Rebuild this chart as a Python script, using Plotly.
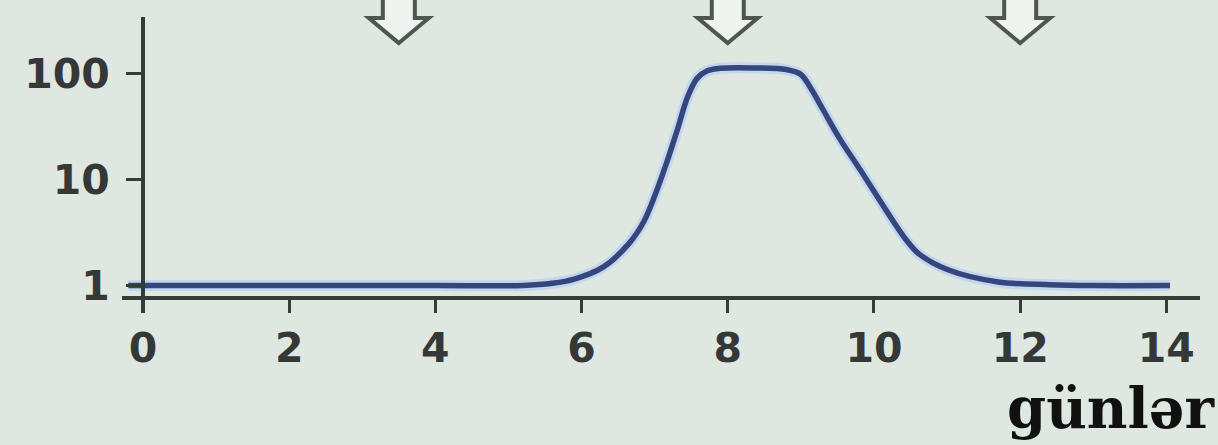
import plotly.graph_objects as go

# ---- data ----
days = [-0.2, 2, 4, 5.2, 5.6, 5.9, 6.3, 6.65, 6.85, 7.0, 7.15, 7.3, 7.45, 7.58,
        7.72, 7.9, 8.33, 8.8, 9.0, 9.15, 9.3, 9.52, 9.84, 10.16, 10.44, 10.61,
        11.02, 11.7, 12.4, 13.0, 14.05]
values = [1.0, 1.0, 1.0, 1.0, 1.05, 1.15, 1.5, 2.5, 4.0, 7.0, 13.5, 28, 60, 90,
          106, 112, 113, 109, 98, 70, 46, 25, 11.5, 5.2, 2.7, 2.0,
          1.4, 1.08, 1.02, 1.0, 1.0]
x_ticks = [0, 2, 4, 6, 8, 10, 12, 14]
y_ticks = [1, 10, 100]
y_tick_labels = ["1", "10", "100"]
arrow_days = [3.5, 8, 12]
x_label = "günlər"

BG = "#dfe7e1"
AXIS = "#363d38"
TICKFONT = dict(family="DejaVu Sans", size=41, color="#363838", weight="bold")

fig = go.Figure()
# light halo under the curve
fig.add_trace(go.Scatter(x=days, y=values, mode="lines",
                         line=dict(color="#c2d6ee", width=11, shape="spline", smoothing=0.9),
                         hoverinfo="skip", showlegend=False))
fig.add_trace(go.Scatter(x=days, y=values, mode="lines",
                         line=dict(color="#36467c", width=5.5, shape="spline", smoothing=0.9),
                         showlegend=False))

# hollow down arrows at the top
arrow_path = "M 0 0 L 30 25 L 16 25 L 16 55 L -16 55 L -16 25 L -30 25 Z"
for d in arrow_days:
    fig.add_shape(type="path", xref="x", yref="paper",
                  xsizemode="pixel", ysizemode="pixel",
                  xanchor=d, yanchor=0.912, path=arrow_path,
                  line=dict(color="#4f5650", width=4), fillcolor="#eef3ef",
                  layer="above")

fig.add_annotation(text=x_label, xref="paper", yref="paper",
                   x=1.0158, y=-0.44, xanchor="right", yanchor="bottom",
                   showarrow=False,
                   font=dict(family="DejaVu Serif", size=56, color="#111111", weight="bold"))

fig.update_layout(
    width=1218, height=445,
    margin=dict(l=122, r=18, t=17, b=132),
    paper_bgcolor=BG, plot_bgcolor=BG,
    xaxis=dict(range=[-0.287, 14.46], tickvals=x_ticks, showgrid=False, zeroline=False,
               showline=True, linecolor=AXIS, linewidth=4,
               ticks="outside", ticklen=13, tickwidth=3, tickcolor=AXIS,
               tickfont=TICKFONT, anchor="free", position=0.0507,
               ticklabelstandoff=0),
    yaxis=dict(type="log", range=[-0.259, 2.533], tickvals=y_ticks, ticktext=y_tick_labels,
               showgrid=False, zeroline=False, showline=True, linecolor=AXIS, linewidth=4,
               ticks="outside", ticklen=15, tickwidth=3, tickcolor=AXIS,
               tickfont=TICKFONT, anchor="free", position=0.01948,
               ticklabelstandoff=8),
)

fig.write_html("out.html", config={"displayModeBar": False},
               post_script="document.body.style.margin='0px';")
